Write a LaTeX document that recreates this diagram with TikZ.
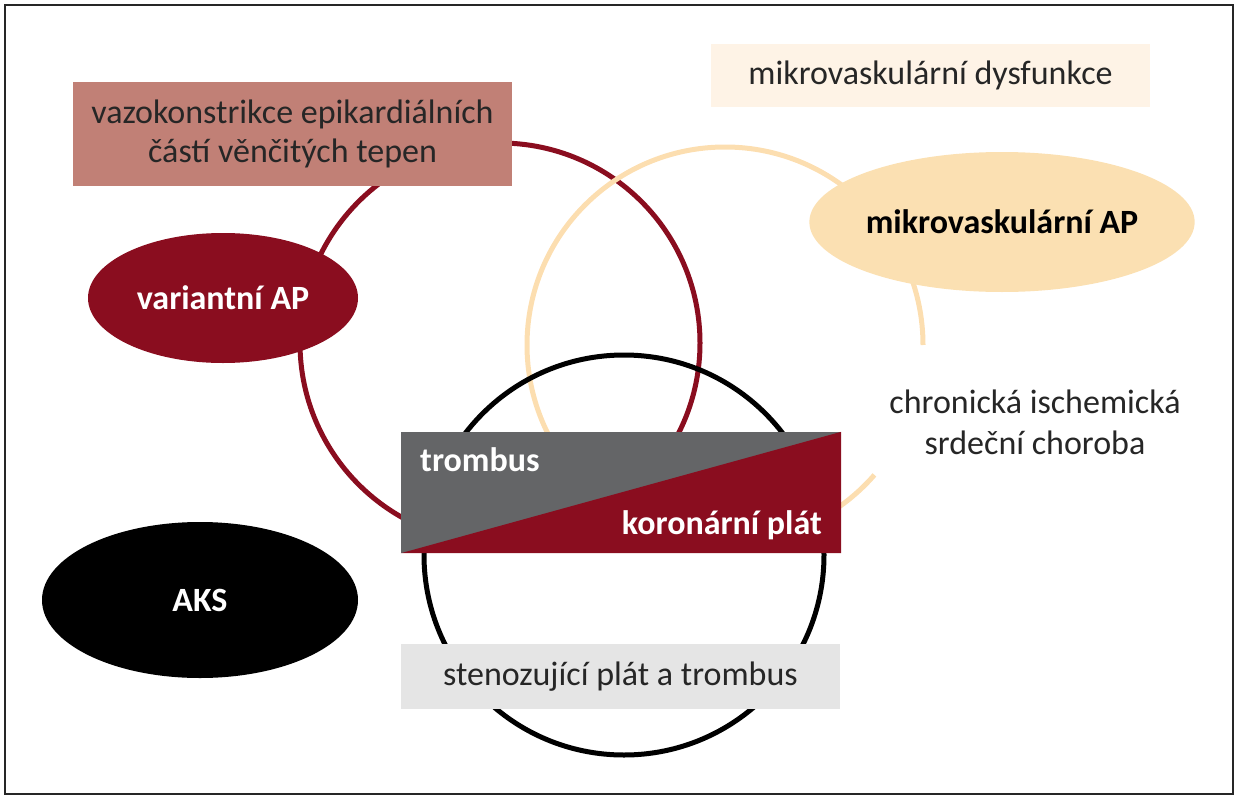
\documentclass[tikz,border=0pt]{standalone}
\usepackage{fontspec}
\setmainfont{Carlito}
\usetikzlibrary{shapes.geometric}
\definecolor{dred}{RGB}{138,13,31}
\definecolor{vazo}{RGB}{193,128,118}
\definecolor{cream}{RGB}{251,224,178}
\definecolor{creamline}{RGB}{252,222,176}
\definecolor{dysf}{RGB}{254,243,230}
\definecolor{tgray}{RGB}{100,101,103}
\definecolor{lgray}{RGB}{229,229,229}
\begin{document}
\begin{tikzpicture}[x=1pt,y=-1pt,
  txt/.style={font=\fontsize{34}{39}\selectfont, align=center, inner sep=0pt, text=black!85},
  btxt/.style={font=\bfseries\fontsize{34}{40}\selectfont, inner sep=0pt},
  boxn/.style={rectangle, inner sep=0pt, draw=none},
  ell/.style={ellipse, inner sep=0pt, draw=none},
  ring/.style={line width=5pt}]
\useasboundingbox (0,0) rectangle (1239,800);
\draw[line width=2pt, black!85] (5,5) rectangle (1233,794);
% circles
\draw[ring, dred] (500,343) circle[radius=200pt];
\draw[ring, creamline] (923,345) arc[start angle=0, end angle=319, radius=198pt];
\draw[ring, black] (624,555) circle[radius=200pt];
% boxes
\node[boxn, fill=vazo, minimum width=439pt, minimum height=104pt, txt] (vazo) at (292.5,134) {vazokonstrikce epikardiálních\\částí věnčitých tepen};
\node[boxn, fill=dysf, minimum width=439pt, minimum height=63pt, txt] (dysf) at (930.5,75.5) {mikrovaskulární dysfunkce};
\node[boxn, fill=lgray, minimum width=439pt, minimum height=65pt, txt] (sten) at (620.5,676.5) {stenozující plát a trombus};
\node[boxn, fill=tgray, minimum width=440pt, minimum height=121pt] (tb) at (621,492.5) {};
\fill[dred] (tb.south west) -- (tb.north east) -- (tb.south east) -- cycle;
\node[btxt, text=white, anchor=base west] (trombus) at (420,471) {trombus};
\node[btxt, text=white, anchor=base east] (plat) at (822,534) {koronární plát};
% ellipses
\node[ell, fill=dred, minimum width=270pt, minimum height=130pt, btxt, text=white] (var) at (223,298) {variantní AP};
\node[ell, fill=black, minimum width=316pt, minimum height=156pt, btxt, text=white] (aks) at (200,600) {AKS};
\node[ell, fill=cream, minimum width=380pt, minimum height=140pt, btxt, text=black] (mikro) at (1002,222) {mikrovaskulární AP};
% text
\node[txt, font=\fontsize{34}{41}\selectfont] (chron) at (1035,422) {chronická ischemická\\srdeční choroba};
\end{tikzpicture}
\end{document}
